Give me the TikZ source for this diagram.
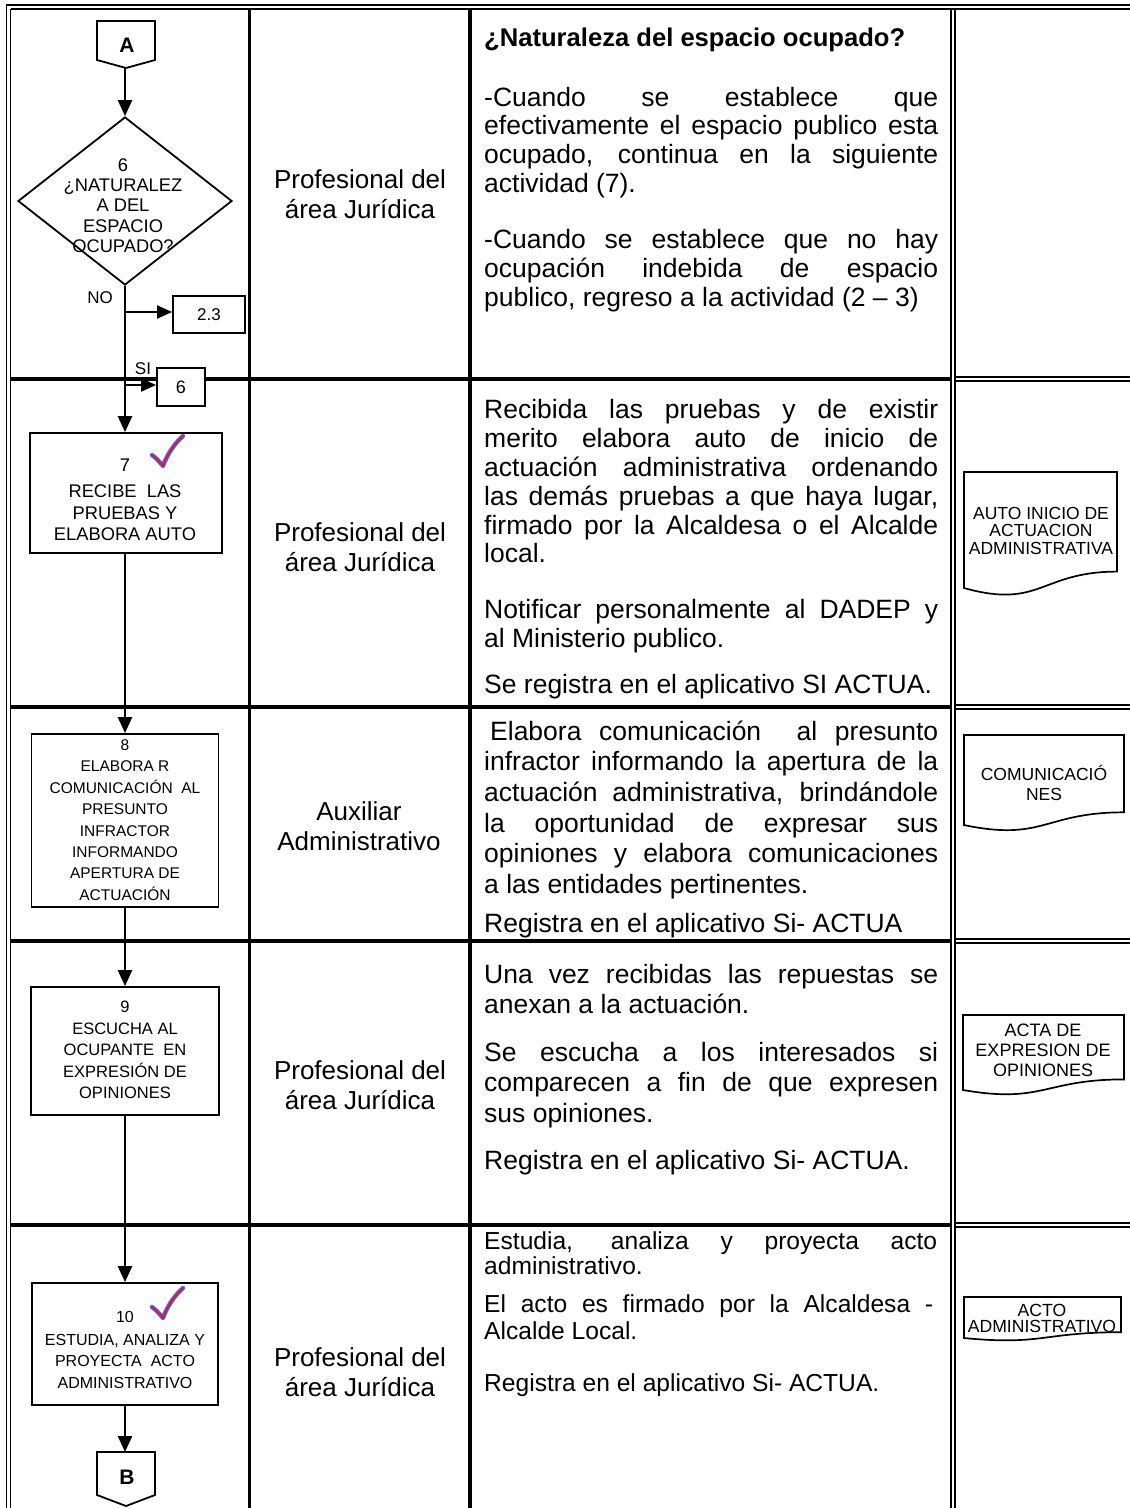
\documentclass[tikz,border=0pt]{standalone}
\usepackage{fontspec}
\setmainfont{Liberation Sans}
\usetikzlibrary{arrows.meta,calc,shapes.geometric}
\definecolor{chkblue}{RGB}{70,105,245}
\definecolor{chkred}{RGB}{235,20,30}
\newcommand\JL[2][454pt]{\makebox[#1][s]{#2}}
\newcount\lnum
\newcommand\ctx[3][ctn]{\global\advance\lnum by 1 \node[#1] (c\the\lnum) at (484,#2) {#3};}
\newcommand\chk[2]{%
  \begin{scope}[shift={(#1,#2)}]
    \draw[chkblue,line width=4.4pt,line cap=round,line join=round] (0,0) .. controls (5,4) .. (11,11) .. controls (15,0) and (22,-11) .. (31,-19);
    \draw[chkred,line width=1.8pt,line cap=round,line join=round] (0,0) .. controls (5,4) .. (11,11) .. controls (15,0) and (22,-11) .. (31,-19);
  \end{scope}}
\newcommand\docshape[4]{%
  \draw[line width=1.7pt,fill=white] (#1,#3) -- (#2,#3) -- (#2,{#3+0.802*#4}) .. controls ({(#1+#2)/2},{#3+0.802*#4}) and ({(#1+#2)/2},{#3+1.107*#4}) .. (#1,{#3+0.934*#4}) -- cycle;}
\tikzset{
  flow/.style={line width=2.4pt},
  arr/.style={flow,-{Triangle[length=16pt,width=14pt]}},
  sarr/.style={line width=2pt,-{Triangle[length=15pt,width=13pt]}},
  box/.style={draw,line width=1.8pt,fill=white,inner sep=0pt},
  dline/.style={line width=1.8pt},
  tline/.style={line width=3.5pt},
  ctn/.style={anchor=west,inner sep=0pt,font=\fontsize{26.5}{29}\selectfont,text height=19pt,text depth=5.5pt},
  ctb/.style={ctn,font=\bfseries\fontsize{25.6}{29}\selectfont},
  cts/.style={ctn,font=\fontsize{24.6}{26}\selectfont,text height=17.7pt,text depth=5.2pt},
  role/.style={align=center,inner sep=0pt,font=\fontsize{26}{30}\selectfont},
  ftx/.style={align=center,inner sep=0pt,font=\fontsize{18.3}{20.3}\selectfont},
  lbl/.style={inner sep=0pt,font=\fontsize{17}{17}\selectfont},
  doct/.style={align=center,inner sep=0pt},
  conl/.style={inner sep=0pt,font=\bfseries\fontsize{21}{21}\selectfont}
}
\begin{document}
\begin{tikzpicture}[x=1pt,y=-1pt]
\useasboundingbox (0,0) rectangle (1130,1508);
\fill[white] (0,0) rectangle (1130,1508);
% ---- table ----
\draw[dline] (6.5,4) -- (6.5,1508);
\draw[dline] (10.5,9) -- (10.5,1508);
\draw[dline] (5.6,5) -- (1130,5);
\draw[dline] (10.5,9) -- (1130,9);
\draw[line width=3.5pt] (249.5,9) -- (249.5,1508);
\draw[line width=4pt] (469.5,9) -- (469.5,1508);
\draw[dline] (951,9) -- (951,1508);
\draw[dline] (955,9) -- (955,1508);
\foreach \yy in {379,707,941,1225}{
  \draw[tline] (10.5,\yy) -- (951,\yy);
  \draw[dline] (955,\yy-2) -- (1130,\yy-2);
  \draw[dline] (955,\yy+2) -- (1130,\yy+2);
}
% ---- column 2 ----
\node[role] (r1) at (360,194) {Profesional del\\área Jurídica};
\node[role] (r2) at (360,547) {Profesional del\\área Jurídica};
\node[role] (r3) at (359,826.5) {Auxiliar\\Administrativo};
\node[role] (r4) at (360,1085) {Profesional del\\área Jurídica};
\node[role] (r5) at (360,1372) {Profesional del\\área Jurídica};
% ---- column 3 ----
\ctx[ctb]{40}{¿Naturaleza del espacio ocupado?}
\ctx{100}{\JL{-Cuando se establece que}}
\ctx{128}{\JL{efectivamente el espacio publico esta}}
\ctx{157}{\JL{ocupado, continua en la siguiente}}
\ctx{186}{actividad (7).}
\ctx{242}{\JL{-Cuando se establece que no hay}}
\ctx{271}{\JL{ocupación indebida de espacio}}
\ctx{300}{publico, regreso a la actividad (2 – 3)}
\ctx{412}{\JL{Recibida las pruebas y de existir}}
\ctx{441}{\JL{merito elabora auto de inicio de}}
\ctx{470}{\JL{actuación administrativa ordenando}}
\ctx{499}{\JL{las demás pruebas a que haya lugar,}}
\ctx{528}{\JL{firmado por la Alcaldesa o el Alcalde}}
\ctx{556}{local.}
\ctx{612}{\JL{Notificar personalmente al DADEP y}}
\ctx{641}{al Ministerio publico.}
\ctx{687}{Se registra en el aplicativo SI ACTUA.}
\ctx{734}{\hspace*{6pt}\JL[448pt]{Elabora comunicación\ \ al presunto}}
\ctx{764}{\JL{infractor informando la apertura de la}}
\ctx{795}{\JL{actuación administrativa, brindándole}}
\ctx{826}{\JL{la oportunidad de expresar sus}}
\ctx{856}{\JL{opiniones y elabora comunicaciones}}
\ctx{887}{a las entidades pertinentes.}
\ctx{926}{Registra en el aplicativo Si- ACTUA}
\ctx{977}{\JL{Una vez recibidas las repuestas se}}
\ctx{1007}{anexan a la actuación.}
\ctx{1055}{\JL{Se escucha a los interesados si}}
\ctx{1085}{\JL{comparecen a fin de que expresen}}
\ctx{1116}{sus opiniones.}
\ctx{1163}{Registra en el aplicativo Si- ACTUA.}
\ctx[cts]{1243}{\JL[453pt]{Estudia, analiza y proyecta acto}}
\ctx[cts]{1268}{administrativo.}
\ctx[cts]{1306}{\JL[449pt]{El acto es firmado por la Alcaldesa -}}
\ctx[cts]{1333}{Alcalde Local.}
\ctx[cts]{1385}{Registra en el aplicativo Si- ACTUA.}
% ---- column 4 documents ----
\docshape{964}{1117}{472}{124.2}
\node[doct,font=\fontsize{17.5}{17.5}\selectfont] (doc1) at (1041,530.5) {AUTO INICIO DE\\ACTUACION\\ADMINISTRATIVA};
\docshape{964}{1124}{735}{96.4}
\node[doct,font=\fontsize{17.5}{20}\selectfont] (doc2) at (1044,783) {COMUNICACIÓ\\NES};
\docshape{963}{1124}{1015}{80.3}
\node[doct,font=\fontsize{18}{20}\selectfont] (doc3) at (1043,1050) {ACTA DE\\EXPRESION DE\\OPINIONES};
\docshape{964}{1121}{1297}{43.9}
\node[doct,font=\fontsize{17.6}{16}\selectfont] (doc4) at (1042,1318) {ACTO\\ADMINISTRATIVO};
% ---- column 1 flow ----
\draw[line width=1.8pt,fill=white] (97,21) -- (155,21) -- (155,60) -- (126,68) -- (97,60) -- cycle;
\node[conl] (At) at (127,45) {A};
\coordinate (Abot) at (125,68);
\node[draw,diamond,line width=1.8pt,inner sep=0pt,minimum width=214pt,minimum height=168pt] (d6) at (125,201) {};
\node[ftx] (d6t) at (123,205.5) {6\\¿NATURALEZ\\A DEL\\ESPACIO\\OCUPADO?};
\node[box,minimum width=72pt,minimum height=37pt,font=\fontsize{17}{17}\selectfont] (b23) at (209,314.5) {\raisebox{-3pt}{2.3}};
\node[box,minimum width=48pt,minimum height=38pt,font=\fontsize{18}{18}\selectfont] (b6) at (181,387) {\raisebox{-2pt}{6}};
\node[lbl] (nol) at (100,298) {NO};
\node[lbl] (sil) at (143,369) {SI};
\node[box,minimum width=192pt,minimum height=120pt] (b7) at (126,493) {};
\node[ftx,font=\fontsize{18.3}{21.5}\selectfont] (b7t) at (125,500) {7\\[5pt]RECIBE\ \ LAS\\PRUEBAS Y\\ELABORA AUTO};
\node[box,minimum width=187pt,minimum height=173pt] (b8) at (125,820.5) {};
\node[ftx,font=\fontsize{15.5}{21.4}\selectfont] (b8t) at (125,820) {8\\ELABORA R\\COMUNICACIÓN\ \ AL\\PRESUNTO\\INFRACTOR\\INFORMANDO\\APERTURA DE\\ACTUACIÓN};
\node[box,minimum width=188pt,minimum height=128pt] (b9) at (125,1051) {};
\node[ftx,font=\fontsize{16.5}{21.5}\selectfont] (b9t) at (125,1050) {9\\ESCUCHA AL\\OCUPANTE\ \ EN\\EXPRESIÓN DE\\OPINIONES};
\node[box,minimum width=186pt,minimum height=122pt] (b10) at (125,1344) {};
\node[ftx,font=\fontsize{16}{21.5}\selectfont] (b10t) at (125,1350) {10\\[1pt]ESTUDIA, ANALIZA Y\\PROYECTA\ \ ACTO\\ADMINISTRATIVO};
\draw[line width=1.8pt,fill=white] (97,1452) -- (155,1452) -- (155,1495) -- (126,1506) -- (97,1495) -- cycle;
\node[conl] (Bt) at (127,1477) {B};
\coordinate (Btop) at (125,1452);
% connectors
\draw[arr] (Abot) -- (d6.north);
\draw[arr] (d6.south) -- (b7.north -| d6.south);
\coordinate (no) at (125,312);
\draw[sarr] (no) -- (no -| b23.west);
\coordinate (si) at (125,385);
\draw[sarr] (si) -- (si -| b6.west);
\draw[arr] (b7.south -| b8.north) -- (b8.north);
\draw[arr] (b8.south) -- (b9.north);
\draw[arr] (b9.south) -- (b10.north);
\draw[arr] (b10.south) -- (Btop);
\chk{152}{455}
\chk{152}{1307}
\end{tikzpicture}
\end{document}
